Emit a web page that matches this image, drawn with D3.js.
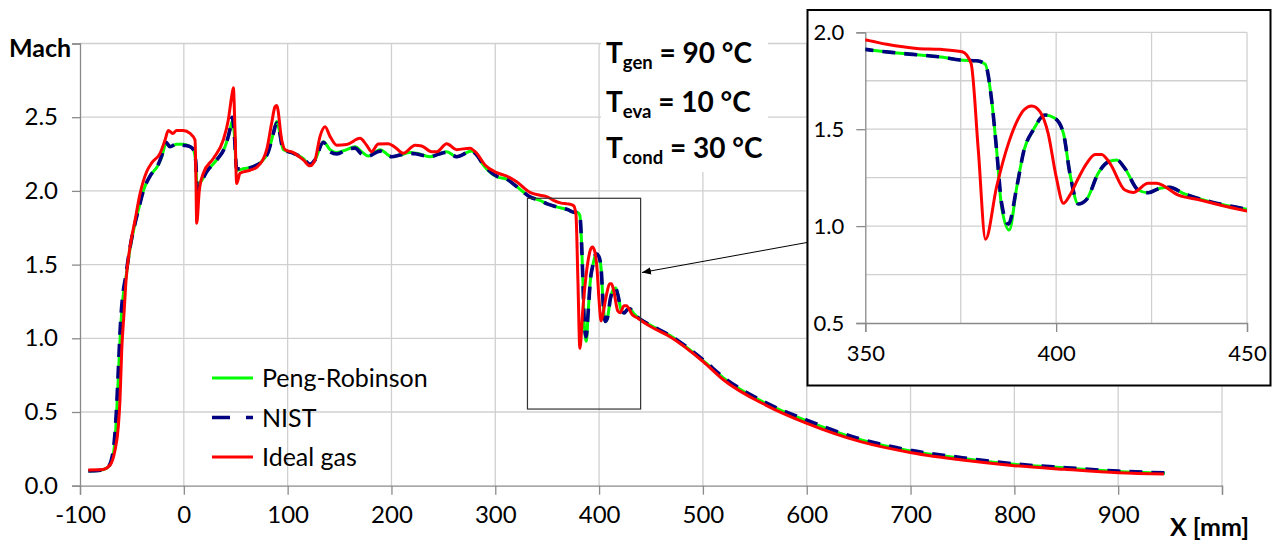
<!DOCTYPE html>
<html><head><meta charset="utf-8">
<script src="https://cdn.jsdelivr.net/npm/d3@7"></script>
<style>
html,body{margin:0;padding:0;background:#fff;}
svg{display:block;font-family:Lato,"DejaVu Sans",sans-serif;}
</style></head>
<body>
<svg id="c" width="1272" height="545"></svg>
<script>
// ---------------- DATA ----------------
const xPR = [-92,-80,-74,-70,-67,-65,-63,-61,-59,-56,-52,-47,-43.8,-39,-32.6,-24.6,-21.3,-17.2,-13.3,-6.9,-0.5,6,9.2,11.5,13,15,17.2,22,31.7,39.7,44.5,46.5,48.5,50.9,57.3,67,75,81.4,86.2,89.5,91,95.8,105.5,115,121.5,126.4,134.4,140.8,147.3,156.9,164.9,171.3,177.7,189,200.2,208.2,217.9,224.3,237.1,245.1,253.2,262.8,277.3,282.1,288.5,301.4,311,320.6,333.4,343.1,350,359.1,370.4,374.8,379.2,381.4,383.1,384.4,385.7,387.7,389.7,391.6,394,397.1,399.7,401.9,403.6,405.8,408,411,413.7,415.9,418,421.5,424.1,427.2,429.8,433.3,440.3,450,468,500,520,560,600,650,700,750,800,850,900,945];
const mPR = [0.10,0.105,0.12,0.16,0.26,0.45,0.75,1.05,1.25,1.40,1.60,1.78,1.87,2.0,2.10,2.176,2.23,2.32,2.30,2.316,2.316,2.30,2.28,2.19,2.0,2.05,2.07,2.13,2.21,2.30,2.41,2.47,2.40,2.14,2.15,2.165,2.2,2.266,2.39,2.47,2.44,2.28,2.255,2.22,2.176,2.21,2.334,2.28,2.26,2.28,2.30,2.266,2.237,2.28,2.232,2.243,2.26,2.255,2.232,2.248,2.266,2.232,2.27,2.243,2.176,2.096,2.079,2.03,1.96,1.935,1.912,1.892,1.871,1.857,1.853,1.836,1.65,1.393,1.10,0.98,1.203,1.393,1.496,1.573,1.556,1.479,1.272,1.114,1.138,1.272,1.332,1.341,1.298,1.186,1.172,1.195,1.2,1.169,1.126,1.087,1.02,0.85,0.73,0.56,0.44,0.315,0.235,0.185,0.145,0.12,0.097,0.085];

const xNIST = [-92,-80,-74,-70,-67,-65,-63,-61,-59,-56,-52,-47,-43.8,-39,-32.6,-24.6,-21.3,-17.2,-13.3,-6.9,-0.5,6,9.2,11.5,13,15,17.2,22,31.7,39.7,44.5,46.5,48.5,50.9,57.3,67,75,81.4,86.2,89.5,91,95.8,105.5,115,121.5,126.4,134.4,140.8,147.3,156.9,164.9,171.3,177.7,189,200.2,208.2,217.9,224.3,237.1,245.1,253.2,262.8,277.3,282.1,288.5,301.4,311,320.6,333.4,343.1,350,359.1,370.4,374.8,379.2,381.4,383.1,384.4,385.7,387.5,389.7,391.6,394,397.1,399.7,401.9,403.6,405.8,408,411,413.7,415.9,418,421.5,424.1,427.2,429.8,433.3,440.3,450,468,500,520,560,600,650,700,750,800,850,900,945];
const mNIST = [0.10,0.105,0.12,0.17,0.30,0.50,0.80,1.10,1.28,1.42,1.61,1.78,1.87,2.0,2.10,2.18,2.24,2.33,2.30,2.32,2.31,2.30,2.28,2.20,2.01,2.05,2.07,2.13,2.21,2.30,2.42,2.50,2.40,2.15,2.15,2.165,2.2,2.266,2.39,2.46,2.44,2.28,2.255,2.22,2.18,2.21,2.33,2.265,2.25,2.28,2.29,2.25,2.237,2.27,2.232,2.243,2.255,2.25,2.232,2.248,2.262,2.232,2.27,2.243,2.18,2.10,2.08,2.03,1.96,1.935,1.912,1.892,1.871,1.857,1.853,1.836,1.65,1.393,1.12,1.01,1.203,1.393,1.496,1.573,1.556,1.479,1.272,1.114,1.138,1.272,1.332,1.341,1.298,1.186,1.172,1.195,1.2,1.169,1.126,1.087,1.02,0.855,0.735,0.565,0.445,0.32,0.24,0.19,0.148,0.122,0.099,0.087];

const xIG = [-92,-78,-71,-66.3,-63.1,-61.5,-59.8,-57.6,-55.7,-51.8,-47,-42.2,-35.8,-30.9,-22.9,-18.1,-15,-10.7,-6.9,-0.5,6,10.8,11.7,12.4,14.9,18.8,28.4,38,42.8,46.1,47.7,49.3,50.9,54.1,63.7,70.2,79.8,84.6,87.8,89.5,94.3,97.5,105.5,115.1,121.5,126.4,131.2,136,140.8,147.3,156.9,169.7,176.1,180.9,187.3,197,203.4,211.4,222.7,229.1,238.7,243.6,253.2,262.8,275.6,282.1,290.1,301.4,311,320.6,333.4,343.1,350,355.6,363.5,369.6,375.4,377.7,379.6,381.5,384.4,387.5,389.7,391.6,393.6,395.8,397.9,400,401.9,403.6,405.8,408,410.2,411.9,414.1,418,420.2,424.1,426.3,432,437.7,442.9,450,468.3,500.4,520,560.5,600.2,651.8,701,750,800,848.6,900.3,944];
const mIG = [0.107,0.11,0.14,0.24,0.40,0.58,0.92,1.17,1.39,1.62,1.80,1.98,2.13,2.19,2.255,2.345,2.41,2.39,2.41,2.41,2.39,2.345,2.07,1.78,2.0,2.12,2.22,2.345,2.48,2.64,2.70,2.41,2.05,2.12,2.14,2.16,2.28,2.46,2.57,2.58,2.345,2.28,2.26,2.21,2.17,2.21,2.37,2.435,2.37,2.31,2.315,2.357,2.31,2.266,2.318,2.32,2.296,2.255,2.31,2.305,2.266,2.266,2.32,2.28,2.29,2.255,2.176,2.124,2.10,2.062,1.99,1.97,1.96,1.938,1.917,1.912,1.90,1.84,1.393,0.932,1.203,1.427,1.539,1.60,1.62,1.59,1.479,1.255,1.118,1.16,1.247,1.324,1.37,1.37,1.324,1.186,1.174,1.221,1.221,1.16,1.135,1.109,1.078,1.011,0.841,0.717,0.547,0.423,0.299,0.224,0.174,0.136,0.111,0.088,0.079];

const seriesNames = ["Peng-Robinson","NIST","Ideal gas"];
const xTicksMain = [-100,0,100,200,300,400,500,600,700,800,900,1000];
const yTicksMain = [0,0.5,1.0,1.5,2.0,2.5,3.0];
const xTicksInset = [350,400,450];
const yTicksInset = [0.5,1.0,1.5,2.0];
const xGridInset = [350,375,400,425,450];
const yGridInset = [0.5,0.75,1.0,1.25,1.5,1.75,2.0];
const zoomBoxX = [331,440];
const zoomBoxY = [0.52,1.95];
const conditions = [["T","gen"," = 90 °C"],["T","eva"," = 10 °C"],["T","cond"," = 30 °C"]];

// ---------------- DRAW ----------------
const svg = d3.select("#c");
const series = [
  {name:seriesNames[0], xs:xPR, ys:mPR, color:"#00ff00", w:3, dash:null},
  {name:seriesNames[1], xs:xNIST, ys:mNIST, color:"#000080", w:3.6, dash:"13,9"},
  {name:seriesNames[2], xs:xIG, ys:mIG, color:"#ff0000", w:3, dash:null}
];
const gridC = "#d0d0d0", axisC = "#8a8a8a";
const intFmt = d => String(d); // plain hyphen-minus as in the reference

// main scales
const x = d3.scaleLinear().domain([-100,1000]).range([80,1222]);
const y = d3.scaleLinear().domain([0,3]).range([485.7,43.5]);

const main = svg.append("g");
main.append("g").selectAll("line").data(xTicksMain.slice(1)).join("line")
  .attr("x1",d=>x(d)).attr("x2",d=>x(d)).attr("y1",y(3)).attr("y2",y(0))
  .attr("stroke",gridC).attr("stroke-width",1.3);
main.append("g").selectAll("line").data(yTicksMain.slice(1)).join("line")
  .attr("x1",x(-100)).attr("x2",x(1000)).attr("y1",d=>y(d)).attr("y2",d=>y(d))
  .attr("stroke",gridC).attr("stroke-width",1.3);

const xAxis = d3.axisBottom(x).tickValues(xTicksMain).tickSize(9).tickPadding(10)
  .tickFormat(d=> d===1000 ? "" : intFmt(d));
const gx = main.append("g").attr("transform",`translate(0,${y(0)})`).call(xAxis);
const yAxis = d3.axisLeft(y).tickValues(yTicksMain).tickSize(8).tickPadding(14)
  .tickFormat(d=> d===3 ? "" : d3.format(".1f")(d));
const gy = main.append("g").attr("transform",`translate(${x(-100)},0)`).call(yAxis);
[gx,gy].forEach(g=>{
  g.select(".domain").attr("stroke",axisC).attr("stroke-width",1.3);
  g.selectAll(".tick line").attr("stroke",axisC).attr("stroke-width",1.3);
  g.selectAll(".tick text").attr("fill","#000").style("font-size","24px").style("font-family","Lato");
});
gx.selectAll(".tick text").attr("dy","0.78em");

svg.append("text").attr("x",9).attr("y",57).text("Mach")
  .style("font-size","25px").style("font-weight","bold").attr("fill","#000");
svg.append("text").attr("x",1170).attr("y",536).text("X [mm]")
  .style("font-size","25px").style("font-weight","bold").attr("fill","#000");

function drawSeries(g, sx, sy){
  series.forEach(s=>{
    const idx = d3.range(s.xs.length);
    const ln = d3.line().x(i=>sx(s.xs[i])).y(i=>sy(s.ys[i])).curve(d3.curveMonotoneX);
    g.append("path").attr("d",ln(idx)).attr("fill","none")
      .attr("stroke",s.color).attr("stroke-width",s.w)
      .attr("stroke-linejoin","round")
      .attr("stroke-dasharray",s.dash);
  });
}
drawSeries(main.append("g"), x, y);

svg.append("rect").attr("x",x(zoomBoxX[0])).attr("y",y(zoomBoxY[1]))
  .attr("width",x(zoomBoxX[1])-x(zoomBoxX[0])).attr("height",y(zoomBoxY[0])-y(zoomBoxY[1]))
  .attr("fill","none").attr("stroke","#333").attr("stroke-width",1.2);

const lg = svg.append("g");
const legY = [378,417.5,457];
series.forEach((s,i)=>{
  lg.append("line").attr("x1",212).attr("x2",253).attr("y1",legY[i]).attr("y2",legY[i])
    .attr("stroke",s.color).attr("stroke-width",s.w)
    .attr("stroke-dasharray", s.dash ? "18,16" : null);
  lg.append("text").attr("x",262).attr("y",legY[i]).attr("dy","0.36em").text(s.name)
    .style("font-size","25px").attr("fill","#000");
});

svg.append("rect").attr("x",601).attr("y",35).attr("width",167).attr("height",137).attr("fill","#fff");
const condY = [63,111.5,158];
conditions.forEach((c,i)=>{
  const t = svg.append("text").attr("x",606).attr("y",condY[i]).attr("fill","#000")
    .style("font-weight","bold");
  t.append("tspan").text(c[0]).style("font-size","28px");
  t.append("tspan").text(c[1]).style("font-size","18.5px").attr("dy",6);
  t.append("tspan").text(c[2]).style("font-size","28px").attr("dy",-6);
});

const defs = svg.append("defs");
defs.append("marker").attr("id","ah").attr("viewBox","0 0 10 10").attr("refX",10).attr("refY",5)
  .attr("markerWidth",9).attr("markerHeight",9).attr("markerUnits","userSpaceOnUse").attr("orient","auto")
  .append("path").attr("d","M0,1 L10,5 L0,9 z").attr("fill","#000");
svg.append("line").attr("x1",808).attr("y1",242.3).attr("x2",642).attr("y2",272.5)
  .attr("stroke","#000").attr("stroke-width",1).attr("marker-end","url(#ah)");

// ---------------- INSET ----------------
const ins = svg.append("g");
ins.append("rect").attr("x",807.5).attr("y",10).attr("width",463).attr("height",375.5)
  .attr("fill","#fff").attr("stroke","#000").attr("stroke-width",2);
const xi = d3.scaleLinear().domain([350,450]).range([865.3,1247]);
const yi = d3.scaleLinear().domain([0.5,2.0]).range([323,32.3]);
ins.append("g").selectAll("line").data(xGridInset.slice(1)).join("line")
  .attr("x1",d=>xi(d)).attr("x2",d=>xi(d)).attr("y1",yi(2)).attr("y2",yi(0.5))
  .attr("stroke",gridC).attr("stroke-width",1.3);
ins.append("g").selectAll("line").data(yGridInset.slice(1)).join("line")
  .attr("x1",xi(350)).attr("x2",xi(450)).attr("y1",d=>yi(d)).attr("y2",d=>yi(d))
  .attr("stroke",gridC).attr("stroke-width",1.3);
const gxi = ins.append("g").attr("transform",`translate(0,${yi(0.5)})`)
  .call(d3.axisBottom(xi).tickValues(xTicksInset).tickSize(9).tickPadding(12).tickFormat(intFmt));
const gyi = ins.append("g").attr("transform",`translate(${xi(350)},0)`)
  .call(d3.axisLeft(yi).tickValues(yTicksInset).tickSize(9).tickPadding(12).tickFormat(d3.format(".1f")));
[gxi,gyi].forEach(g=>{
  g.select(".domain").attr("stroke",axisC).attr("stroke-width",1.3);
  g.selectAll(".tick line").attr("stroke",axisC).attr("stroke-width",1.3);
  g.selectAll(".tick text").attr("fill","#000").style("font-size","22px").style("font-family","Lato");
});
gxi.selectAll(".tick text").attr("dy","0.78em");
defs.append("clipPath").attr("id","ic").append("rect")
  .attr("x",xi(350)).attr("y",yi(2.0)-4).attr("width",xi(450)-xi(350)).attr("height",yi(0.5)-yi(2.0)+4);
drawSeries(ins.append("g").attr("clip-path","url(#ic)"), xi, yi);
</script>
</body></html>
